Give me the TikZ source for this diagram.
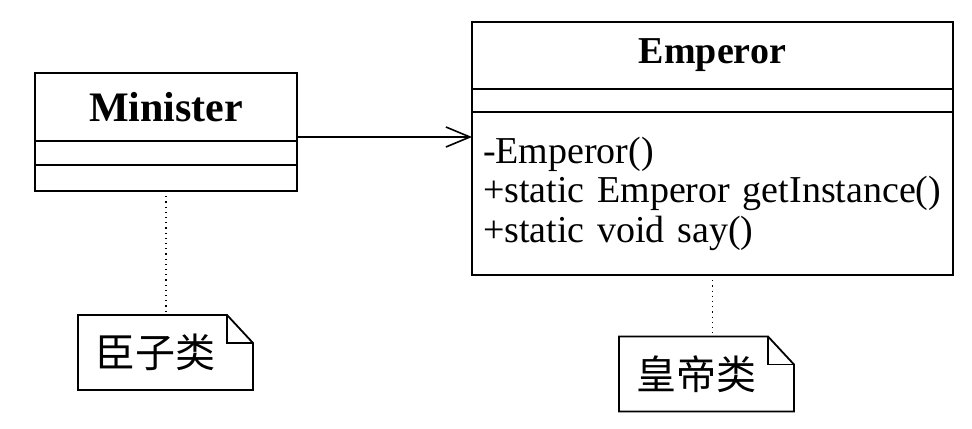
\documentclass[tikz,border=0pt]{standalone}
\usepackage{fontspec}
\setmainfont{Liberation Serif}
\newfontfamily\cjk{Noto Sans CJK SC}
\usetikzlibrary{arrows.meta,positioning}

\begin{document}
\begin{tikzpicture}[
  x=0.5pt,y=0.5pt,
  cls/.style={rectangle,draw,line width=0.9pt,outer sep=0pt,inner sep=0pt},
  note/.style={rectangle,outer sep=0pt,inner xsep=8.5pt,text width=70.5pt,
    align=left,minimum height=37.5pt,font=\cjk\fontsize{20}{22}\selectfont},
  assoc/.style={-{Straight Barb[length=12pt,width=10pt,line width=0.8pt]},line width=0.8pt},
  link/.style={dotted,line width=0.6pt}
]
  \useasboundingbox (0,0) rectangle (972,428);
  % Minister
  \node[cls,minimum width=131pt,minimum height=34pt,font=\bfseries\fontsize{21}{24}\selectfont] (minname) at (166,321) {Minister};
  \node[cls,minimum width=131pt,minimum height=12pt,below=0pt of minname] (minattr) {};
  \node[cls,minimum width=131pt,minimum height=13pt,below=0pt of minattr] (minop) {};
  % Emperor
  \node[cls,minimum width=240.5pt,minimum height=33.5pt,font=\bfseries\fontsize{19}{22}\selectfont] (empname) at (712.5,372.5) {Emperor};
  \node[cls,minimum width=240.5pt,minimum height=11.5pt,below=0pt of empname] (empattr) {};
  \node[cls,minimum width=240.5pt,minimum height=81.5pt,below=0pt of empattr,
    inner xsep=5.5pt,text width=229.5pt,align=left,font=\fontsize{19}{19.75}\selectfont] (empops)
    {-Emperor()\\+static Emperor getInstance()\\+static void say()};
  % notes
  \node[note] (note1) at (165.5,75.5) {臣子类};
  \node[note] (note2) at (706.5,54) {皇帝类};
  \foreach \n in {note1,note2} {
    \draw[line width=0.9pt] (\n.north west) -- ([xshift=-13pt]\n.north east)
      -- ([yshift=-14pt]\n.north east) -- (\n.south east) -- (\n.south west) -- cycle;
    \draw[line width=0.9pt] ([xshift=-13pt]\n.north east) |- ([yshift=-14pt]\n.north east);
  }
  \draw[assoc] ([yshift=-15pt]minname.east) -- ([yshift=-15pt]minname.east -| empops.west);
  \draw[link] (minop.south) -- (minop.south |- note1.north);
  \draw[link] (empops.south) -- (empops.south |- note2.north);
\end{tikzpicture}
\end{document}
